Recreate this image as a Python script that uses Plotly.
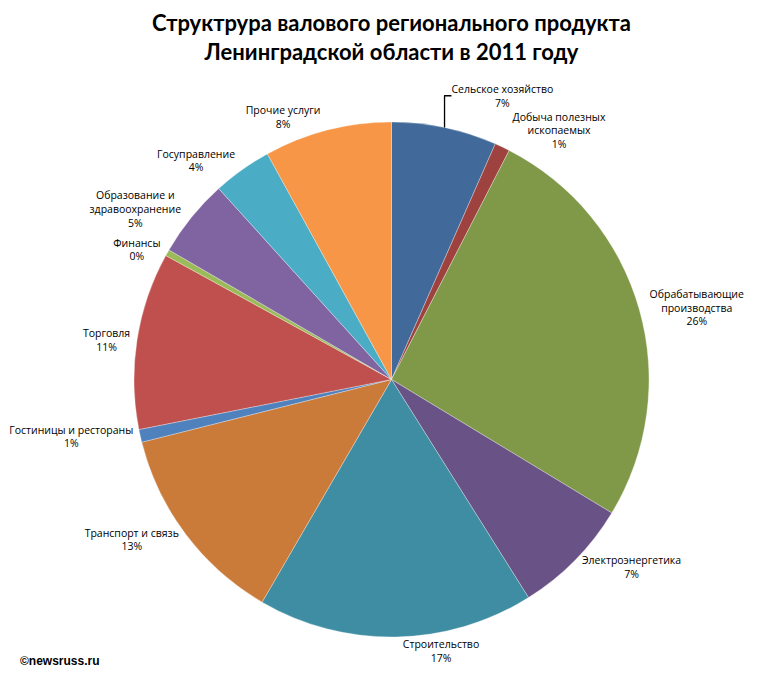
import plotly.graph_objects as go

# Доли отраслей в ВРП, %, по часовой стрелке от 12 часов
sectors = [
    "Сельское хозяйство",
    "Добыча полезных<br>ископаемых",
    "Обрабатывающие<br>производства",
    "Электроэнергетика",
    "Строительство",
    "Транспорт и связь",
    "Гостиницы и рестораны",
    "Торговля",
    "Финансы",
    "Образование и<br>здравоохранение",
    "Госуправление",
    "Прочие услуги",
]
shares = [6.6, 0.95, 26.1, 7.4, 17.3, 12.7, 0.8, 11.1, 0.4, 4.9, 3.7, 8.0]

colors = [
    "#416A9B", "#9E423F", "#7F9949", "#695285", "#3E8DA3", "#CB7B39",
    "#4F81BD", "#C0504D", "#9BBB59", "#8064A2", "#4BACC6", "#F79646",
]

fig = go.Figure(go.Pie(
    labels=sectors, values=shares,
    sort=False, direction="clockwise", rotation=0,
    marker=dict(colors=colors, line=dict(color="rgba(255,255,255,0.6)", width=0.5)),
    texttemplate="%{label}<br>%{percent:.0%}",
    textposition="outside",
    textfont=dict(family="Open Sans, sans-serif", size=10.5, color="#000000"),
    showlegend=False,
    domain=dict(x=[0.0, 1.0], y=[0.0, 1.0]),
))

fig.add_annotation(
    text="<b>©newsruss.ru</b>", xref="paper", yref="paper", x=0.0, y=-0.047,
    xanchor="left", yanchor="middle", showarrow=False,
    font=dict(family="Arial, Liberation Sans, sans-serif", size=12, color="#000000"),
)

fig.update_layout(
    width=767, height=681,
    showlegend=False,
    paper_bgcolor="#ffffff", plot_bgcolor="#ffffff",
    title=dict(
        text="<b>Структрура валового регионального продукта<br>Ленинградской области в 2011 году</b>",
        x=0.5, xanchor="center", yref="container", y=0.966, yanchor="middle",
        font=dict(family="Lato, Calibri, sans-serif", size=22, color="#000000"),
    ),
    margin=dict(l=10, r=10, t=114, b=52, autoexpand=False),
)

fig.write_html("out.html")
